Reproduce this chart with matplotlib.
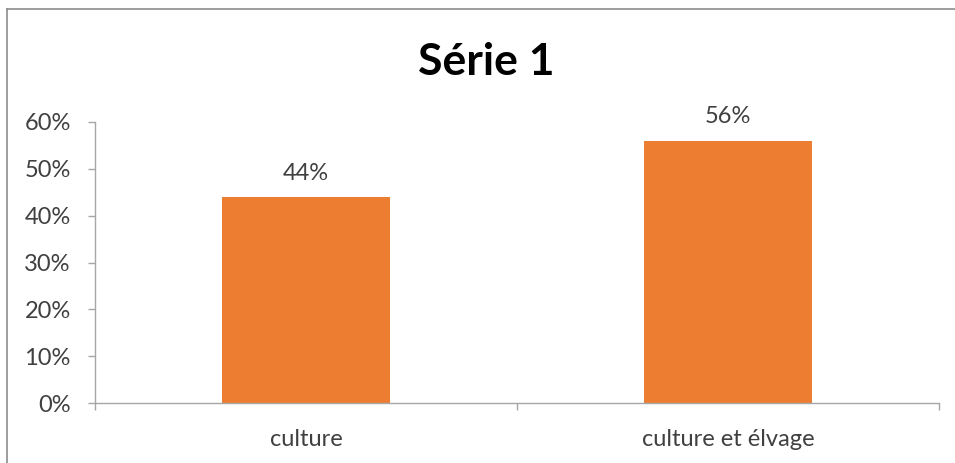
import matplotlib
matplotlib.use("Agg")
import matplotlib.pyplot as plt
from matplotlib.lines import Line2D
from matplotlib.ticker import FixedLocator, PercentFormatter

categories = ["culture", "culture et élvage"]
values = [0.44, 0.56]
yticks = [0.0, 0.1, 0.2, 0.3, 0.4, 0.5, 0.6]
title = "Série 1"

W, H = 955, 463
DPI = 100
plt.rcParams["font.family"] = ["Lato", "DejaVu Sans"]

fig = plt.figure(figsize=(W / DPI, H / DPI), dpi=DPI)
fig.patch.set_facecolor("white")

# chart-area frame (top and left edges)
frame_col = "#8c8c8c"
fig.add_artist(Line2D([7 / W, 7 / W], [0, 1 - 9 / H], transform=fig.transFigure,
                      color=frame_col, lw=1.2))
fig.add_artist(Line2D([7 / W, 1], [1 - 9 / H, 1 - 9 / H], transform=fig.transFigure,
                      color=frame_col, lw=1.2))

ax = fig.add_axes([95 / W, 1 - 403 / H, (939 - 95) / W, (403 - 122) / H])
x = list(range(len(categories)))
bars = ax.bar(x, values, width=0.4, color="#ED7D31", zorder=2)

ax.set_xlim(-0.5, len(categories) - 0.5)
ax.set_ylim(0, 0.6)
ax.yaxis.set_major_locator(FixedLocator(yticks))
ax.yaxis.set_major_formatter(PercentFormatter(1.0, decimals=0))

ax.set_xticks(x)
ax.set_xticklabels(categories)
ax.set_xticks([i - 0.5 for i in range(len(categories) + 1)], minor=True)

axis_col = "#a6a6a6"
text_col = "#404040"
for side in ("top", "right"):
    ax.spines[side].set_visible(False)
for side in ("left", "bottom"):
    ax.spines[side].set_color(axis_col)
    ax.spines[side].set_linewidth(1.0)

ax.tick_params(axis="y", which="major", direction="out", length=5, width=1.0,
               color=axis_col, labelcolor=text_col, labelsize=17, pad=12.5)
ax.tick_params(axis="x", which="major", length=0, labelcolor=text_col,
               labelsize=17, pad=19)
ax.tick_params(axis="x", which="minor", direction="out", length=5, width=1.0,
               color=axis_col)

for rect, v in zip(bars, values):
    ax.annotate(f"{v:.0%}", (rect.get_x() + rect.get_width() / 2, v),
                xytext=(0, 12.5), textcoords="offset points",
                ha="center", va="baseline", fontsize=17, color=text_col)

fig.text(486 / W, 1 - 75 / H, title, ha="center", va="baseline",
         fontsize=32, fontweight="bold", color="black")

fig.savefig("out.png", dpi=DPI, facecolor="white")
